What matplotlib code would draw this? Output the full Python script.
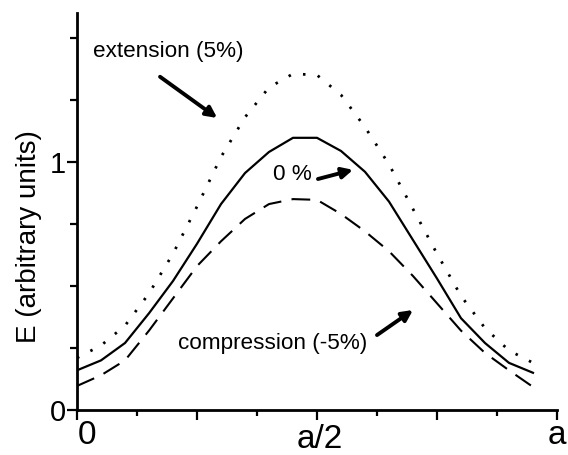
import matplotlib.pyplot as plt
from matplotlib.ticker import MultipleLocator
from matplotlib.transforms import ScaledTranslation

# posição ao longo da célula (em unidades de a)
pos = [0.00, 0.05, 0.10, 0.15, 0.20, 0.25, 0.30, 0.35, 0.40, 0.45,
       0.50, 0.55, 0.60, 0.65, 0.70, 0.75, 0.80, 0.85, 0.90, 0.95]

# energia para cada deformação
e_ext = [0.21, 0.26, 0.34, 0.47, 0.63, 0.82, 1.02, 1.18, 1.30, 1.355,
         1.35, 1.27, 1.14, 0.99, 0.81, 0.63, 0.46, 0.33, 0.24, 0.19]
e_zero = [0.16, 0.20, 0.27, 0.39, 0.52, 0.67, 0.83, 0.955, 1.04, 1.097,
          1.097, 1.044, 0.96, 0.84, 0.685, 0.53, 0.37, 0.27, 0.19, 0.15]
e_comp = [0.097, 0.14, 0.20, 0.32, 0.45, 0.58, 0.68, 0.77, 0.83, 0.85,
          0.847, 0.79, 0.72, 0.64, 0.54, 0.43, 0.32, 0.23, 0.16, 0.093]

xticks = [0, 0.25, 0.5, 0.75, 1.0]
xlabels = ['0', '', 'a/2', '', 'a']

fonte = ['Liberation Sans', 'DejaVu Sans']

fig = plt.figure(figsize=(5.68, 4.55), dpi=100)
ax = fig.add_axes([0.1356, 0.0989, 0.845, 0.8725])

ax.plot(pos, e_ext, color='k', lw=2, linestyle=(0, (0.9, 4.5)))
ax.plot(pos, e_zero, color='k', lw=1.6, linestyle='-')
ax.plot(pos, e_comp, color='k', lw=1.5, linestyle=(0, (9, 5)))

ax.set_xlim(0, 1)
ax.set_ylim(0, 1.6)

for s in ['top', 'right']:
    ax.spines[s].set_visible(False)
for s in ['left', 'bottom']:
    ax.spines[s].set_linewidth(2)

ax.yaxis.set_major_locator(MultipleLocator(1))
ax.yaxis.set_minor_locator(MultipleLocator(0.25))
ax.set_xticks(xticks)
ax.set_xticklabels(xlabels, family=fonte, fontsize=24)
ax.xaxis.set_minor_locator(MultipleLocator(0.125))
ax.tick_params(axis='x', which='major', length=7, width=1.6, pad=0)
ax.tick_params(axis='x', which='minor', length=4, width=1.6)
ax.tick_params(axis='y', which='major', length=7, width=1.6, pad=1)
ax.tick_params(axis='y', which='minor', length=5, width=1.6)
for lab in ax.get_yticklabels():
    lab.set_family(fonte)
    lab.set_fontsize(21)

# ajustes finos dos rótulos do eixo x
xl = ax.get_xticklabels()
xl[0].set_transform(xl[0].get_transform() + ScaledTranslation(0.1, 0, fig.dpi_scale_trans))
xl[2].set_transform(xl[2].get_transform() + ScaledTranslation(0.03, -0.04, fig.dpi_scale_trans))

ax.set_ylabel('E (arbitrary units)', family=fonte, fontsize=20)
ax.yaxis.set_label_coords(-0.072, 0.436)

# anotações
ax.text(0.033, 1.444, 'extension (5%)', family=fonte, fontsize=16.2, va='center')
ax.text(0.408, 0.948, '0 %', family=fonte, fontsize=16.2, va='center')
ax.text(0.210, 0.27, 'compression (-5%)', family=fonte, fontsize=16.2, va='center')

seta = dict(arrowstyle='-|>', color='k', lw=2.8, mutation_scale=16, shrinkA=0, shrinkB=0)
ax.annotate('', xy=(0.292, 1.177), xytext=(0.173, 1.343), arrowprops=seta)
ax.annotate('', xy=(0.575, 0.968), xytext=(0.502, 0.931), arrowprops=seta)
ax.annotate('', xy=(0.700, 0.403), xytext=(0.625, 0.302), arrowprops=seta)

fig.savefig('out.png', dpi=100)
